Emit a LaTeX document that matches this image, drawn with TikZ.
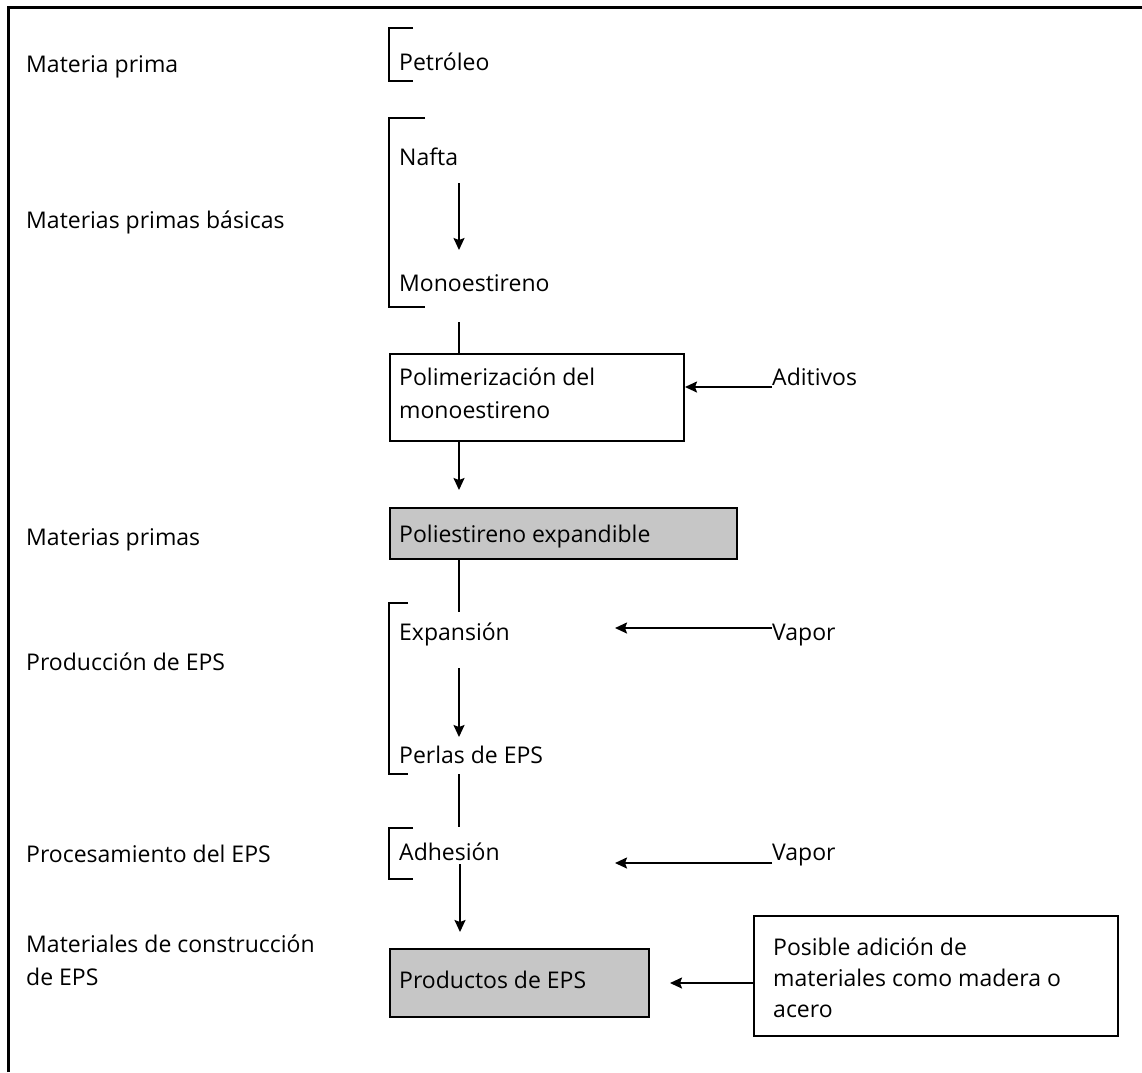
\documentclass[tikz,border=0pt]{standalone}
\usepackage{fontspec}
\setmainfont{Open Sans}
\usetikzlibrary{arrows.meta}
\begin{document}
\begin{tikzpicture}[x=1pt,y=-1pt,
  lbl/.style={anchor=base west,inner sep=0pt,font=\fontsize{23}{32.5}\selectfont,align=left},
  box/.style={draw,line width=2pt,anchor=north west,inner sep=0pt},
  gbox/.style={box,fill=gray!45},
  conn/.style={line width=1.9pt},
  arr/.style={conn,-{Stealth[length=12pt,width=11pt,inset=2pt]}},
  brk/.style={line width=2pt}]
\useasboundingbox (0,0) rectangle (1142,1072);
\fill[white] (0,0) rectangle (1142,1072);
\draw[line width=3pt] (8,1072) -- (8,7) -- (1142,7);

% left column labels
\node[lbl] (l1) at (26,72) {Materia prima};
\node[lbl] (l2) at (26,228) {Materias primas básicas};
\node[lbl] (l3) at (26,545) {Materias primas};
\node[lbl] (l4) at (26,670) {Producción de EPS};
\node[lbl] (l5) at (26,862) {Procesamiento del EPS};
\node[lbl] (l6) at (26,985) {Materiales de construcción\\de EPS};

% boxes
\node[box,minimum width=294pt,minimum height=87pt] (polim) at (389,353) {};
\node[gbox,minimum width=347pt,minimum height=51pt] (poliest) at (389,507) {};
\node[gbox,minimum width=259pt,minimum height=68pt] (productos) at (389,948) {};
\node[box,minimum width=364pt,minimum height=120pt] (posible) at (753,915) {};

% middle column texts
\node[lbl] (petroleo) at (399,70) {Petróleo};
\node[lbl] (nafta) at (399,165) {Nafta};
\node[lbl] (mono) at (399,291) {Monoestireno};
\node[lbl] (tpolim) at (399,418) {Polimerización del\\monoestireno};
\node[lbl] (tpoliest) at (399,542) {Poliestireno expandible};
\node[lbl] (expan) at (399,640) {Expansión};
\node[lbl] (perlas) at (399,763) {Perlas de EPS};
\node[lbl] (adhes) at (399,860) {Adhesión};
\node[lbl] (tprod) at (399,988) {Productos de EPS};

% right texts
\node[lbl] (aditivos) at (772,385) {Aditivos};
\node[lbl] (vapor1) at (772,640) {Vapor};
\node[lbl] (vapor2) at (772,860) {Vapor};
\node[lbl,font=\fontsize{23}{31}\selectfont] (tposible) at (773,1017) {Posible adición de\\materiales como madera o\\acero};

% brackets
\draw[brk] (413,28) -- (389,28) -- (389,81) -- (413,81);
\draw[brk] (425,118) -- (389,118) -- (389,307) -- (425,307);
\draw[brk] (408,603) -- (389,603) -- (389,774) -- (408,774);
\draw[brk] (413,828) -- (389,828) -- (389,879) -- (413,879);

% vertical flow
\draw[arr] ([xshift=60pt,yshift=-18pt]nafta.base west) -- ([xshift=60pt,yshift=41pt]mono.base west);
\draw[conn] ([xshift=60pt,yshift=-31pt]mono.base west) -- ([xshift=70pt]polim.north west);
\draw[arr] ([xshift=70pt]polim.south west) -- ([xshift=70pt,yshift=17pt]poliest.north west);
\draw[conn] ([xshift=70pt]poliest.south west) -- ([xshift=60pt,yshift=28pt]expan.base west);
\draw[arr] ([xshift=60pt,yshift=-28pt]expan.base west) -- ([xshift=60pt,yshift=26pt]perlas.base west);
\draw[conn] ([xshift=60pt,yshift=-11pt]perlas.base west) -- ([xshift=60pt,yshift=33pt]adhes.base west);
\draw[arr] ([xshift=61pt,yshift=-4pt]adhes.base west) -- ([xshift=71pt,yshift=16pt]productos.north west);

% side inputs
\draw[arr] ([yshift=-2pt]aditivos.base west) -- ([yshift=-2pt]aditivos.base west -| polim.east);
\draw[arr] ([yshift=12pt]vapor1.base west) -- ([xshift=-157pt,yshift=12pt]vapor1.base west);
\draw[arr] ([yshift=-3pt]vapor2.base west) -- ([xshift=-157pt,yshift=-3pt]vapor2.base west);
\draw[arr] (posible.west |- productos.east) -- ([xshift=20pt]productos.east);
\end{tikzpicture}
\end{document}
